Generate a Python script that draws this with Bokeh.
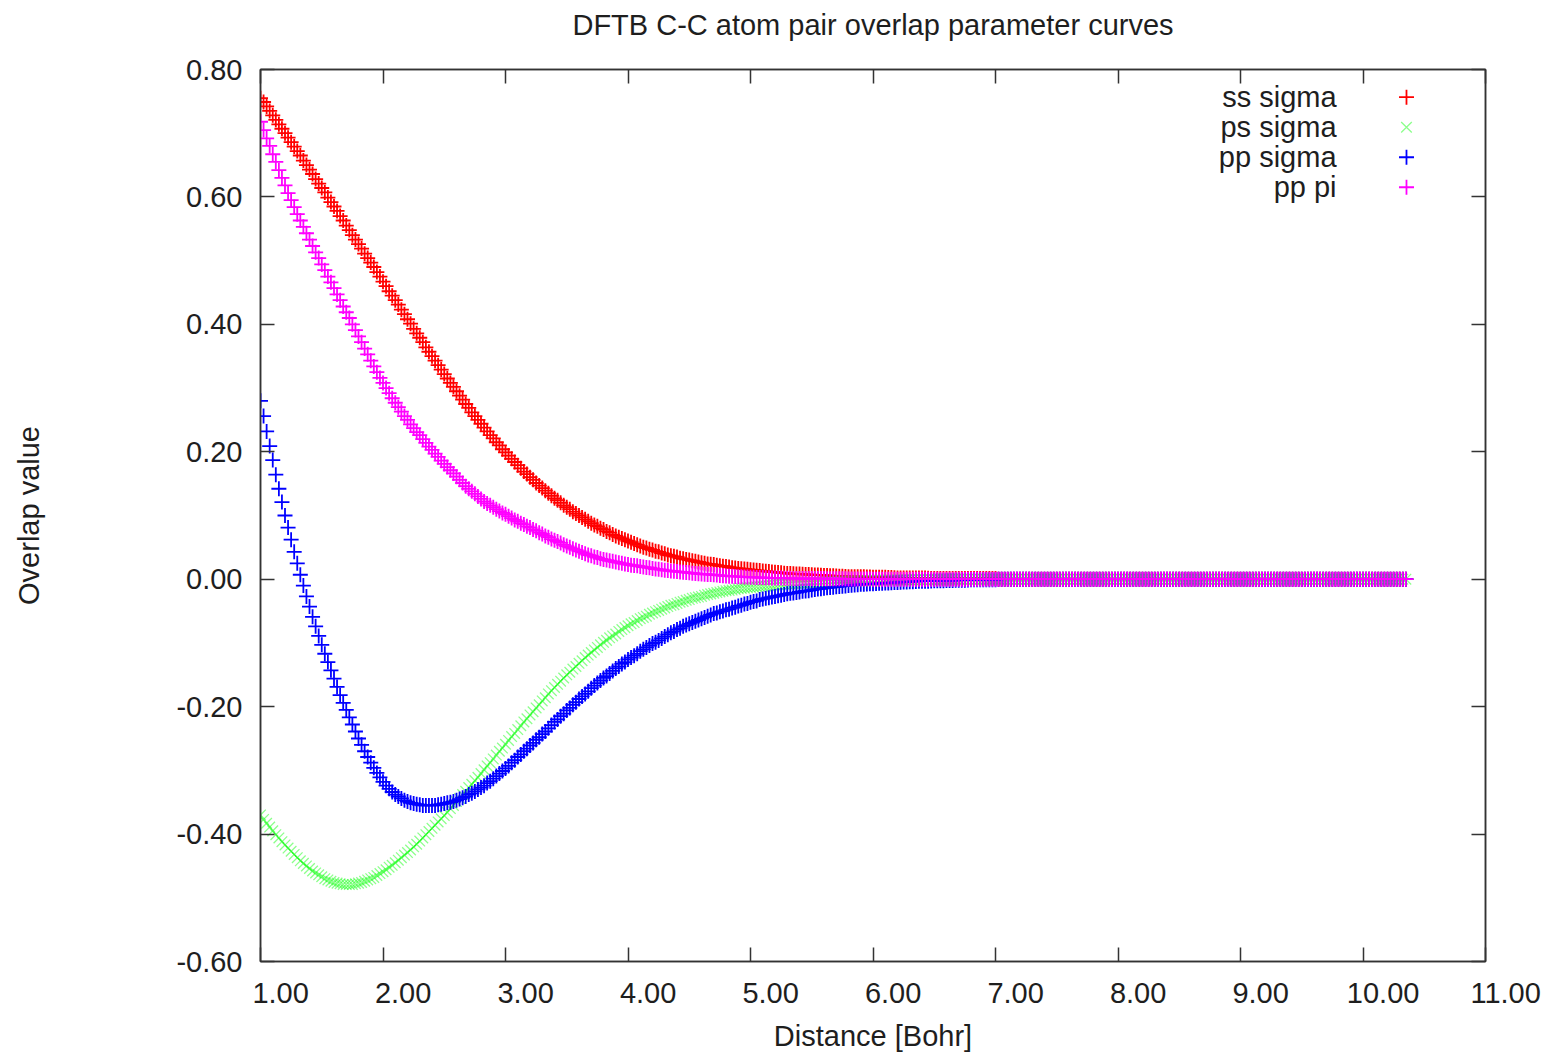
from bokeh.plotting import figure
from bokeh.models import (ColumnDataSource, FixedTicker, NumeralTickFormatter, LinearAxis,
                          Range1d, LabelSet, CustomJSTickFormatter, Title)
from bokeh.core.properties import value
from bokeh.embed import file_html
from bokeh.resources import INLINE

# ---------------- data ----------------
distance = [
    1.0, 1.025, 1.05, 1.075, 1.1, 1.125, 1.15, 1.175,
    1.2, 1.225, 1.25, 1.275, 1.3, 1.325, 1.35, 1.375,
    1.4, 1.425, 1.45, 1.475, 1.5, 1.525, 1.55, 1.575,
    1.6, 1.625, 1.65, 1.675, 1.7, 1.725, 1.75, 1.775,
    1.8, 1.825, 1.85, 1.875, 1.9, 1.925, 1.95, 1.975,
    2.0, 2.025, 2.05, 2.075, 2.1, 2.125, 2.15, 2.175,
    2.2, 2.225, 2.25, 2.275, 2.3, 2.325, 2.35, 2.375,
    2.4, 2.425, 2.45, 2.475, 2.5, 2.525, 2.55, 2.575,
    2.6, 2.625, 2.65, 2.675, 2.7, 2.725, 2.75, 2.775,
    2.8, 2.825, 2.85, 2.875, 2.9, 2.925, 2.95, 2.975,
    3.0, 3.025, 3.05, 3.075, 3.1, 3.125, 3.15, 3.175,
    3.2, 3.225, 3.25, 3.275, 3.3, 3.325, 3.35, 3.375,
    3.4, 3.425, 3.45, 3.475, 3.5, 3.525, 3.55, 3.575,
    3.6, 3.625, 3.65, 3.675, 3.7, 3.725, 3.75, 3.775,
    3.8, 3.825, 3.85, 3.875, 3.9, 3.925, 3.95, 3.975,
    4.0, 4.025, 4.05, 4.075, 4.1, 4.125, 4.15, 4.175,
    4.2, 4.225, 4.25, 4.275, 4.3, 4.325, 4.35, 4.375,
    4.4, 4.425, 4.45, 4.475, 4.5, 4.525, 4.55, 4.575,
    4.6, 4.625, 4.65, 4.675, 4.7, 4.725, 4.75, 4.775,
    4.8, 4.825, 4.85, 4.875, 4.9, 4.925, 4.95, 4.975,
    5.0, 5.025, 5.05, 5.075, 5.1, 5.125, 5.15, 5.175,
    5.2, 5.225, 5.25, 5.275, 5.3, 5.325, 5.35, 5.375,
    5.4, 5.425, 5.45, 5.475, 5.5, 5.525, 5.55, 5.575,
    5.6, 5.625, 5.65, 5.675, 5.7, 5.725, 5.75, 5.775,
    5.8, 5.825, 5.85, 5.875, 5.9, 5.925, 5.95, 5.975,
    6.0, 6.025, 6.05, 6.075, 6.1, 6.125, 6.15, 6.175,
    6.2, 6.225, 6.25, 6.275, 6.3, 6.325, 6.35, 6.375,
    6.4, 6.425, 6.45, 6.475, 6.5, 6.525, 6.55, 6.575,
    6.6, 6.625, 6.65, 6.675, 6.7, 6.725, 6.75, 6.775,
    6.8, 6.825, 6.85, 6.875, 6.9, 6.925, 6.95, 6.975,
    7.0, 7.025, 7.05, 7.075, 7.1, 7.125, 7.15, 7.175,
    7.2, 7.225, 7.25, 7.275, 7.3, 7.325, 7.35, 7.375,
    7.4, 7.425, 7.45, 7.475, 7.5, 7.525, 7.55, 7.575,
    7.6, 7.625, 7.65, 7.675, 7.7, 7.725, 7.75, 7.775,
    7.8, 7.825, 7.85, 7.875, 7.9, 7.925, 7.95, 7.975,
    8.0, 8.025, 8.05, 8.075, 8.1, 8.125, 8.15, 8.175,
    8.2, 8.225, 8.25, 8.275, 8.3, 8.325, 8.35, 8.375,
    8.4, 8.425, 8.45, 8.475, 8.5, 8.525, 8.55, 8.575,
    8.6, 8.625, 8.65, 8.675, 8.7, 8.725, 8.75, 8.775,
    8.8, 8.825, 8.85, 8.875, 8.9, 8.925, 8.95, 8.975,
    9.0, 9.025, 9.05, 9.075, 9.1, 9.125, 9.15, 9.175,
    9.2, 9.225, 9.25, 9.275, 9.3, 9.325, 9.35, 9.375,
    9.4, 9.425, 9.45, 9.475, 9.5, 9.525, 9.55, 9.575,
    9.6, 9.625, 9.65, 9.675, 9.7, 9.725, 9.75, 9.775,
    9.8, 9.825, 9.85, 9.875, 9.9, 9.925, 9.95, 9.975,
    10.0, 10.025, 10.05, 10.075, 10.1, 10.125, 10.15, 10.175,
    10.2, 10.225, 10.25, 10.275, 10.3, 10.325, 10.35,
]

# every curve reads 0.000 from 7.025 to 10.35 Bohr
zero_tail = [
    0.0, 0.0, 0.0, 0.0, 0.0, 0.0, 0.0, 0.0, 0.0, 0.0,
    0.0, 0.0, 0.0, 0.0, 0.0, 0.0, 0.0, 0.0, 0.0, 0.0,
    0.0, 0.0, 0.0, 0.0, 0.0, 0.0, 0.0, 0.0, 0.0, 0.0,
    0.0, 0.0, 0.0, 0.0, 0.0, 0.0, 0.0, 0.0, 0.0, 0.0,
    0.0, 0.0, 0.0, 0.0, 0.0, 0.0, 0.0, 0.0, 0.0, 0.0,
    0.0, 0.0, 0.0, 0.0, 0.0, 0.0, 0.0, 0.0, 0.0, 0.0,
    0.0, 0.0, 0.0, 0.0, 0.0, 0.0, 0.0, 0.0, 0.0, 0.0,
    0.0, 0.0, 0.0, 0.0, 0.0, 0.0, 0.0, 0.0, 0.0, 0.0,
    0.0, 0.0, 0.0, 0.0, 0.0, 0.0, 0.0, 0.0, 0.0, 0.0,
    0.0, 0.0, 0.0, 0.0, 0.0, 0.0, 0.0, 0.0, 0.0, 0.0,
    0.0, 0.0, 0.0, 0.0, 0.0, 0.0, 0.0, 0.0, 0.0, 0.0,
    0.0, 0.0, 0.0, 0.0, 0.0, 0.0, 0.0, 0.0, 0.0, 0.0,
    0.0, 0.0, 0.0, 0.0, 0.0, 0.0, 0.0, 0.0, 0.0, 0.0,
    0.0, 0.0, 0.0, 0.0,
]

ss_sigma = [
    0.755, 0.749, 0.742, 0.735, 0.728, 0.721, 0.714, 0.707,
    0.700, 0.693, 0.686, 0.679, 0.672, 0.665, 0.657, 0.650,
    0.643, 0.636, 0.628, 0.621, 0.614, 0.607, 0.599, 0.592,
    0.585, 0.578, 0.570, 0.563, 0.555, 0.548, 0.540, 0.533,
    0.526, 0.519, 0.511, 0.504, 0.497, 0.490, 0.482, 0.475,
    0.467, 0.460, 0.452, 0.445, 0.438, 0.431, 0.423, 0.416,
    0.408, 0.401, 0.393, 0.386, 0.379, 0.372, 0.364, 0.357,
    0.350, 0.343, 0.336, 0.329, 0.322, 0.315, 0.308, 0.302,
    0.295, 0.288, 0.282, 0.275, 0.269, 0.262, 0.256, 0.250,
    0.244, 0.238, 0.232, 0.226, 0.221, 0.215, 0.210, 0.204,
    0.199, 0.194, 0.189, 0.184, 0.179, 0.174, 0.169, 0.165,
    0.160, 0.156, 0.151, 0.147, 0.143, 0.139, 0.135, 0.131,
    0.127, 0.124, 0.120, 0.116, 0.113, 0.110, 0.106, 0.103,
    0.100, 0.097, 0.094, 0.091, 0.088, 0.085, 0.083, 0.080,
    0.078, 0.075, 0.073, 0.070, 0.068, 0.066, 0.064, 0.062,
    0.060, 0.058, 0.056, 0.054, 0.052, 0.050, 0.049, 0.047,
    0.046, 0.044, 0.043, 0.041, 0.040, 0.038, 0.037, 0.036,
    0.035, 0.033, 0.032, 0.031, 0.030, 0.029, 0.028, 0.027,
    0.026, 0.025, 0.024, 0.0235, 0.023, 0.022, 0.021, 0.0205,
    0.020, 0.019, 0.018, 0.0175, 0.017, 0.0165, 0.016, 0.0155,
    0.015, 0.0145, 0.014, 0.0135, 0.013, 0.0125, 0.012, 0.0115,
    0.011, 0.0105, 0.010, 0.0095, 0.009, 0.0088, 0.0085, 0.0083,
    0.008, 0.0078, 0.0075, 0.0073, 0.007, 0.0068, 0.0065, 0.0063,
    0.006, 0.0058, 0.0055, 0.0053, 0.005, 0.0048, 0.0045, 0.0043,
    0.004, 0.004, 0.004, 0.004, 0.004, 0.0038, 0.0035, 0.0033,
    0.003, 0.003, 0.003, 0.003, 0.003, 0.0028, 0.0025, 0.0023,
    0.002, 0.002, 0.002, 0.002, 0.002, 0.002, 0.002, 0.002,
    0.002, 0.0018, 0.0015, 0.0013, 0.001, 0.001, 0.001, 0.001,
    0.001, 0.001, 0.001, 0.001, 0.001, 0.001, 0.001, 0.001,
    0.001, 0.001, 0.001, 0.001, 0.001, 0.001, 0.001, 0.001,
    0.001,
] + zero_tail

ps_sigma = [
    -0.370, -0.377, -0.383, -0.389, -0.395, -0.401, -0.406, -0.412,
    -0.417, -0.422, -0.427, -0.432, -0.437, -0.442, -0.446, -0.450,
    -0.454, -0.458, -0.461, -0.464, -0.467, -0.470, -0.472, -0.474,
    -0.476, -0.477, -0.478, -0.479, -0.479, -0.479, -0.479, -0.478,
    -0.477, -0.476, -0.474, -0.472, -0.470, -0.468, -0.465, -0.462,
    -0.459, -0.456, -0.452, -0.449, -0.445, -0.441, -0.437, -0.433,
    -0.429, -0.425, -0.420, -0.416, -0.411, -0.406, -0.401, -0.396,
    -0.391, -0.386, -0.381, -0.376, -0.371, -0.366, -0.360, -0.355,
    -0.349, -0.344, -0.338, -0.333, -0.327, -0.322, -0.316, -0.311,
    -0.305, -0.299, -0.293, -0.288, -0.282, -0.276, -0.270, -0.265,
    -0.259, -0.253, -0.247, -0.242, -0.236, -0.230, -0.224, -0.219,
    -0.213, -0.208, -0.202, -0.197, -0.191, -0.186, -0.180, -0.175,
    -0.170, -0.165, -0.160, -0.155, -0.150, -0.146, -0.141, -0.137,
    -0.132, -0.128, -0.123, -0.119, -0.115, -0.111, -0.107, -0.103,
    -0.099, -0.096, -0.092, -0.089, -0.086, -0.082, -0.079, -0.076,
    -0.073, -0.070, -0.068, -0.065, -0.062, -0.060, -0.058, -0.055,
    -0.053, -0.051, -0.049, -0.047, -0.045, -0.043, -0.041, -0.040,
    -0.038, -0.036, -0.035, -0.033, -0.032, -0.030, -0.029, -0.028,
    -0.027, -0.025, -0.024, -0.023, -0.022, -0.021, -0.020, -0.019,
    -0.018, -0.0175, -0.017, -0.016, -0.015, -0.0145, -0.014, -0.0135,
    -0.013, -0.0125, -0.012, -0.0115, -0.011, -0.0105, -0.010, -0.0095,
    -0.009, -0.0085, -0.008, -0.0078, -0.0075, -0.0073, -0.007, -0.0068,
    -0.0065, -0.0063, -0.006, -0.0058, -0.0055, -0.0053, -0.005, -0.0048,
    -0.0045, -0.0043, -0.004, -0.0038, -0.0035, -0.0033, -0.003, -0.003,
    -0.003, -0.0028, -0.0025, -0.0025, -0.0025, -0.0023, -0.002, -0.002,
    -0.002, -0.0019, -0.0018, -0.0016, -0.0015, -0.0014, -0.0013, -0.0012,
    -0.001, -0.001, -0.001, -0.001, -0.001, -0.0009, -0.0008, -0.0008,
    -0.0007, -0.0007, -0.0006, -0.0006, -0.0005, -0.0004, -0.0003, -0.0002,
    0.0, 0.0, 0.0, 0.0, 0.0, 0.0, 0.0, 0.0,
    0.0, 0.0, 0.0, 0.0, 0.0, 0.0, 0.0, 0.0,
    0.0,
] + zero_tail

pp_sigma = [
    0.280, 0.256, 0.232, 0.209, 0.187, 0.164, 0.142, 0.121,
    0.100, 0.081, 0.062, 0.043, 0.025, 0.007, -0.010, -0.027,
    -0.043, -0.059, -0.074, -0.089, -0.103, -0.117, -0.130, -0.143,
    -0.156, -0.169, -0.182, -0.194, -0.205, -0.217, -0.228, -0.239,
    -0.250, -0.260, -0.270, -0.279, -0.288, -0.296, -0.304, -0.311,
    -0.318, -0.324, -0.329, -0.334, -0.338, -0.341, -0.344, -0.347,
    -0.349, -0.351, -0.352, -0.353, -0.354, -0.355, -0.355, -0.355,
    -0.355, -0.355, -0.354, -0.353, -0.352, -0.351, -0.350, -0.349,
    -0.347, -0.345, -0.343, -0.341, -0.338, -0.336, -0.333, -0.330,
    -0.327, -0.324, -0.320, -0.317, -0.313, -0.309, -0.305, -0.301,
    -0.297, -0.293, -0.288, -0.284, -0.279, -0.275, -0.270, -0.266,
    -0.261, -0.257, -0.252, -0.248, -0.243, -0.239, -0.234, -0.229,
    -0.224, -0.220, -0.215, -0.211, -0.206, -0.202, -0.197, -0.193,
    -0.188, -0.184, -0.180, -0.176, -0.171, -0.167, -0.163, -0.159,
    -0.155, -0.152, -0.148, -0.144, -0.140, -0.137, -0.133, -0.130,
    -0.126, -0.123, -0.120, -0.117, -0.113, -0.110, -0.107, -0.104,
    -0.101, -0.099, -0.096, -0.093, -0.090, -0.087, -0.084, -0.082,
    -0.079, -0.077, -0.074, -0.072, -0.070, -0.068, -0.066, -0.064,
    -0.062, -0.060, -0.058, -0.056, -0.054, -0.053, -0.051, -0.050,
    -0.048, -0.047, -0.045, -0.044, -0.042, -0.041, -0.039, -0.038,
    -0.036, -0.035, -0.034, -0.032, -0.031, -0.030, -0.029, -0.028,
    -0.027, -0.026, -0.025, -0.024, -0.023, -0.022, -0.0215, -0.021,
    -0.020, -0.019, -0.0185, -0.018, -0.017, -0.016, -0.0155, -0.015,
    -0.014, -0.0135, -0.013, -0.0125, -0.012, -0.0115, -0.011, -0.0105,
    -0.010, -0.0095, -0.009, -0.0085, -0.008, -0.008, -0.0075, -0.0073,
    -0.007, -0.0068, -0.0065, -0.0063, -0.006, -0.0058, -0.0055, -0.0053,
    -0.005, -0.0048, -0.0045, -0.0043, -0.004, -0.0038, -0.0035, -0.0033,
    -0.003, -0.003, -0.003, -0.0028, -0.0025, -0.0025, -0.0025, -0.0023,
    -0.002, -0.002, -0.002, -0.0018, -0.0015, -0.0015, -0.0015, -0.0013,
    -0.001, -0.001, -0.001, -0.001, -0.001, -0.001, -0.001, -0.001,
    -0.001,
] + zero_tail

pp_pi = [
    0.718, 0.705, 0.692, 0.680, 0.667, 0.655, 0.642, 0.630,
    0.618, 0.606, 0.595, 0.584, 0.573, 0.563, 0.553, 0.543,
    0.533, 0.523, 0.513, 0.504, 0.494, 0.485, 0.475, 0.466,
    0.457, 0.447, 0.438, 0.428, 0.419, 0.410, 0.400, 0.391,
    0.381, 0.372, 0.362, 0.353, 0.343, 0.334, 0.325, 0.316,
    0.308, 0.300, 0.292, 0.284, 0.277, 0.270, 0.263, 0.256,
    0.250, 0.243, 0.237, 0.231, 0.226, 0.220, 0.214, 0.208,
    0.203, 0.197, 0.192, 0.186, 0.181, 0.176, 0.171, 0.166,
    0.161, 0.156, 0.151, 0.146, 0.142, 0.138, 0.134, 0.130,
    0.126, 0.122, 0.119, 0.116, 0.113, 0.110, 0.107, 0.104,
    0.102, 0.099, 0.096, 0.093, 0.091, 0.088, 0.086, 0.083,
    0.081, 0.078, 0.076, 0.073, 0.071, 0.068, 0.066, 0.063,
    0.061, 0.059, 0.057, 0.054, 0.052, 0.050, 0.048, 0.046,
    0.044, 0.042, 0.040, 0.038, 0.037, 0.035, 0.034, 0.032,
    0.031, 0.030, 0.029, 0.028, 0.027, 0.026, 0.025, 0.024,
    0.023, 0.022, 0.0215, 0.021, 0.020, 0.019, 0.0185, 0.018,
    0.017, 0.016, 0.0155, 0.015, 0.014, 0.0135, 0.013, 0.0125,
    0.012, 0.0115, 0.011, 0.0105, 0.010, 0.0095, 0.009, 0.0085,
    0.008, 0.0078, 0.0075, 0.0073, 0.007, 0.0065, 0.006, 0.0055,
    0.005, 0.0048, 0.0045, 0.0043, 0.004, 0.0038, 0.0035, 0.0033,
    0.003, 0.0029, 0.0028, 0.0027, 0.0025, 0.0024, 0.0022, 0.0021,
    0.002, 0.0019, 0.0018, 0.0017, 0.0015, 0.0014, 0.0012, 0.0011,
    0.001, 0.001, 0.001, 0.001, 0.001, 0.001, 0.001, 0.001,
    0.001, 0.0009, 0.0008, 0.0008, 0.0007, 0.0007, 0.0006, 0.0006,
    0.0005, 0.0005, 0.0004, 0.0004, 0.0003, 0.0003, 0.0002, 0.0002,
    0.0001, 0.0001, 0.0, 0.0, 0.0, 0.0, 0.0, 0.0,
    0.0, 0.0, 0.0, 0.0, 0.0, 0.0, 0.0, 0.0,
    0.0, 0.0, 0.0, 0.0, 0.0, 0.0, 0.0, 0.0,
    0.0, 0.0, 0.0, 0.0, 0.0, 0.0, 0.0, 0.0,
    0.0, 0.0, 0.0, 0.0, 0.0, 0.0, 0.0, 0.0,
    0.0,
] + zero_tail

series_names = ["ss sigma", "ps sigma", "pp sigma", "pp pi"]
series_colors = ["#ff0000", "#00ff00", "#0000ff", "#ff00ff"]
series_markers = ["cross", "x", "cross", "cross"]

x_ticks = [1, 2, 3, 4, 5, 6, 7, 8, 9, 10, 11]
x_tick_labels = ["1.00", "2.00", "3.00", "4.00", "5.00", "6.00",
                 "7.00", "8.00", "9.00", "10.00", "11.00"]
y_ticks = [-0.6, -0.4, -0.2, 0.0, 0.2, 0.4, 0.6, 0.8]

TITLE = "DFTB C-C atom pair overlap parameter curves"
X_LABEL = "Distance [Bohr]"
Y_LABEL = "Overlap value"

# ---------------- style / layout ----------------
FONT = "Liberation Sans"
FS = "29px"
TXT = "#1e1e1e"
AX = "#333333"
X_MIN, X_MAX = 1.0, 11.0
Y_MIN, Y_MAX = -0.6, 0.8
NBSP = "\u00a0"

p = figure(frame_width=1225, frame_height=892,
           x_range=Range1d(X_MIN, X_MAX), y_range=Range1d(Y_MIN, Y_MAX),
           output_backend="svg", toolbar_location=None,
           min_border_left=260, min_border_right=60,
           min_border_top=69, min_border_bottom=92,
           background_fill_color="white", border_fill_color="white")

p.xgrid.visible = False
p.ygrid.visible = False
p.outline_line_color = AX
p.outline_line_width = 1.5

empty_fmt = CustomJSTickFormatter(code="return ''")


def style_axis(ax):
    ax.axis_line_color = AX
    ax.axis_line_width = 1.5
    ax.major_tick_line_color = AX
    ax.major_tick_line_width = 1.5
    ax.major_tick_in = 14
    ax.major_tick_out = 0
    ax.minor_tick_in = 0
    ax.minor_tick_out = 0
    ax.minor_tick_line_color = None
    ax.major_label_text_font = FONT
    ax.major_label_text_font_size = FS
    ax.major_label_text_color = TXT
    ax.axis_label_text_font = FONT
    ax.axis_label_text_font_size = FS
    ax.axis_label_text_font_style = "normal"
    ax.axis_label_text_color = TXT


# bottom axis (labels sit a little right of their ticks, as in the original)
xa = p.xaxis[0]
style_axis(xa)
xa.ticker = FixedTicker(ticks=x_ticks, minor_ticks=[])
xa.formatter = NumeralTickFormatter(format="0.00")
xa.major_label_overrides = {t: NBSP * 5 + lab for t, lab in zip(x_ticks, x_tick_labels)}
xa.major_label_standoff = 15
xa.axis_label = X_LABEL
xa.axis_label_standoff = 8

# left axis
ya = p.yaxis[0]
style_axis(ya)
ya.ticker = FixedTicker(ticks=y_ticks, minor_ticks=[])
ya.formatter = NumeralTickFormatter(format="0.00")
ya.major_label_standoff = 18
ya.axis_label = Y_LABEL
ya.axis_label_standoff = 128

# mirrored ticks on top (its blank label only reserves room under the title) and right
top = LinearAxis(ticker=FixedTicker(ticks=x_ticks, minor_ticks=[]), formatter=empty_fmt)
style_axis(top)
top.major_label_text_font_size = "0px"
top.major_label_standoff = 0
top.axis_label = NBSP
top.axis_label_text_font_size = "20px"
top.axis_label_standoff = 4
p.add_layout(top, "above")

right = LinearAxis(ticker=FixedTicker(ticks=y_ticks, minor_ticks=[]), formatter=empty_fmt)
style_axis(right)
right.major_label_text_font_size = "0px"
right.major_label_standoff = 0
p.add_layout(right, "right")

# title, stacked above the top axis
p.add_layout(Title(text=TITLE, align="center", text_font=FONT, text_font_size=FS,
                   text_font_style="normal", text_color=TXT, standoff=0), "above")

# ---------------- data marks ----------------
all_series = [ss_sigma, ps_sigma, pp_sigma, pp_pi]
for vals, name, col, mk in zip(all_series, series_names, series_colors, series_markers):
    src = ColumnDataSource(dict(x=distance, y=vals))
    if mk == "x":
        p.scatter("x", "y", source=src, marker="x", size=15,
                  line_color=col, line_alpha=0.45, line_width=1.3)
    else:
        p.scatter("x", "y", source=src, marker="cross", size=15,
                  line_color=col, line_width=1.8)

# ---------------- legend (gnuplot style: text then key) ----------------
LEG_TEXT_X = 9.784
LEG_KEY_X = 10.355
LEG_Y = [0.7565, 0.7094, 0.6623, 0.6152]

leg_src = ColumnDataSource(dict(x=[LEG_TEXT_X] * 4, y=LEG_Y, text=series_names))
p.add_layout(LabelSet(x="x", y="y", text="text", source=leg_src,
                      text_align="right", text_baseline="middle",
                      text_font=value(FONT), text_font_size=value(FS),
                      text_color=TXT))
for yy, col, mk in zip(LEG_Y, series_colors, series_markers):
    if mk == "x":
        p.scatter([LEG_KEY_X], [yy], marker="x", size=15,
                  line_color=col, line_alpha=0.45, line_width=1.3)
    else:
        p.scatter([LEG_KEY_X], [yy], marker="cross", size=15,
                  line_color=col, line_width=1.8)

open("out.html", "w").write(file_html(p, INLINE))
